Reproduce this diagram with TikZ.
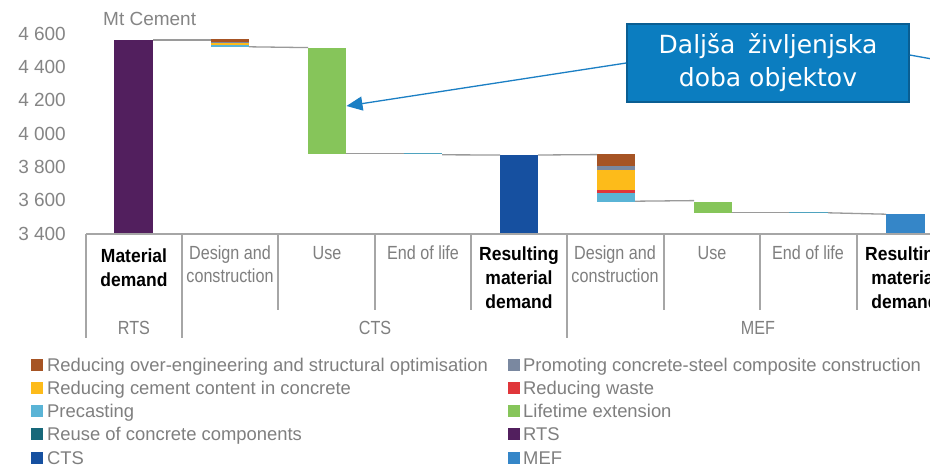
\documentclass[tikz,border=0pt]{standalone}
\usepackage{fontspec}
\setmainfont{Liberation Sans}
\newfontfamily\catfont[FakeStretch=0.85]{Liberation Sans}
\newfontfamily\catboldfam[FakeStretch=0.92]{Liberation Sans}
\newfontfamily\boxfont{DejaVu Sans}
\usetikzlibrary{arrows.meta}
\definecolor{rtscol}{HTML}{521F5E}
\definecolor{ctscol}{HTML}{1650A0}
\definecolor{mefcol}{HTML}{3586C8}
\definecolor{greencol}{HTML}{86C55A}
\definecolor{browncol}{HTML}{A65424}
\definecolor{promcol}{HTML}{7A88A0}
\definecolor{yellowcol}{HTML}{FDBB1A}
\definecolor{redcol}{HTML}{E0363A}
\definecolor{precol}{HTML}{5AB4D6}
\definecolor{reusecol}{HTML}{17687A}
\definecolor{reusebar}{HTML}{4FA3BF}
\definecolor{boxfill}{HTML}{0B7DC0}
\definecolor{boxedge}{HTML}{0A5E92}
\definecolor{callb}{HTML}{1B7FC4}
\definecolor{txtg}{HTML}{7F7F7F}
\definecolor{tickg}{HTML}{858585}
\definecolor{lineg}{HTML}{9A9A9A}
\definecolor{axg}{HTML}{A6A6A6}
\begin{document}
\begin{tikzpicture}[x=1pt,y=-1pt,
  conn/.style={draw=lineg, line width=1.3pt},
  sep/.style={draw=axg, line width=1.2pt},
  cat/.style={font=\catfont\fontsize{19}{23}\selectfont, text=txtg, align=center, anchor=base, inner sep=0pt},
  catb/.style={font=\catboldfam\bfseries\fontsize{19}{24}\selectfont, text=black, align=center, anchor=base, inner sep=0pt},
  tick/.style={font=\fontsize{19}{23}\selectfont, text=tickg, anchor=east, inner sep=0pt},
  leg/.style={font=\fontsize{18.4}{22}\selectfont, text=txtg, anchor=base west, inner sep=0pt},
  sq/.style={minimum size=12pt, inner sep=0pt, anchor=center}]
\clip (0,0) rectangle (930,469);
\fill[white] (0,0) rectangle (930,469);

% y-axis tick labels
\node[tick] (t4600) at (66,33.6) {4 600};
\node[tick] (t4400) at (66,67) {4 400};
\node[tick] (t4200) at (66,100.3) {4 200};
\node[tick] (t4000) at (66,133.7) {4 000};
\node[tick] (t3800) at (66,167) {3 800};
\node[tick] (t3600) at (66,200.4) {3 600};
\node[tick] (t3400) at (66,233.7) {3 400};
\node[font=\fontsize{19}{23}\selectfont, text=tickg, anchor=base west, inner sep=0pt] (unit) at (103,25) {Mt Cement};

% bars
\fill[rtscol] (114,39.5) rectangle (153,234);
\fill[browncol] (211,39.3) rectangle (249,42);
\fill[promcol] (211,42) rectangle (249,42.7);
\fill[yellowcol] (211,42.7) rectangle (249,45.3);
\fill[precol] (211,45.3) rectangle (249,46.6);
\fill[greencol] (308,47.5) rectangle (346,154);
\fill[reusebar] (404,152.8) rectangle (442,154.4);
\fill[ctscol] (500,154.5) rectangle (538,234);
\fill[browncol] (597,154) rectangle (635,166.3);
\fill[promcol] (597,166.3) rectangle (635,170);
\fill[yellowcol] (597,170) rectangle (635,190);
\fill[redcol] (597,190) rectangle (635,193.3);
\fill[precol] (597,193.3) rectangle (635,201.5);
\fill[greencol] (694,202) rectangle (732,213);
\fill[reusebar] (789,211.8) rectangle (828,213);
\fill[mefcol] (886,214) rectangle (925,234);

% connectors between bars
\draw[conn] (153,40) -- (211,40);
\draw[conn] (249,46.8) -- (308,47.6);
\draw[conn] (346,153.6) -- (404,153.6);
\draw[conn] (442,154.8) -- (500,155);
\draw[conn] (538,155) -- (597,154.6);
\draw[conn] (635,201.2) -- (694,200.6);
\draw[conn] (732,212.4) -- (789,212.4);
\draw[conn] (828,212.8) -- (886,214.2);

% axis and category separators
\draw[sep] (86,234) -- (931,234);
\draw[sep] (86,234) -- (86,338);
\draw[sep] (182,234) -- (182,338);
\draw[sep] (278,234) -- (278,310);
\draw[sep] (375,234) -- (375,310);
\draw[sep] (471,234) -- (471,310);
\draw[sep] (567,234) -- (567,338);
\draw[sep] (664,234) -- (664,310);
\draw[sep] (760,234) -- (760,310);
\draw[sep] (857,234) -- (857,310);

% category labels (base anchor = last line's baseline)
\node[catb] (c1) at (134,286) {Material\\demand};
\node[cat] (c2) at (230,282.3) {Design and\\construction};
\node[cat] (c3) at (327,259.3) {Use};
\node[cat] (c4) at (423,259.3) {End of life};
\node[catb] (c5) at (519,308.5) {Resulting\\material\\demand};
\node[cat] (c6) at (615,282.3) {Design and\\construction};
\node[cat] (c7) at (712,259.3) {Use};
\node[cat] (c8) at (808,259.3) {End of life};
\node[catb] (c9) at (905,308.5) {Resulting\\material\\demand};
\node[cat] (g1) at (134,334) {RTS};
\node[cat] (g2) at (375,334) {CTS};
\node[cat] (g3) at (758,334) {MEF};

% legend
\node[sq, fill=browncol] (s1) at (36.5,364.5) {};
\node[leg] (l1) at (47,371) {Reducing over-engineering and structural optimisation};
\node[sq, fill=yellowcol] (s2) at (36.5,387.8) {};
\node[leg] (l2) at (47,394.3) {Reducing cement content in concrete};
\node[sq, fill=precol] (s3) at (36.5,411.1) {};
\node[leg] (l3) at (47,417.6) {Precasting};
\node[sq, fill=reusecol] (s4) at (36.5,434.4) {};
\node[leg] (l4) at (47,440.9) {Reuse of concrete components};
\node[sq, fill=ctscol] (s5) at (36.5,457.7) {};
\node[leg] (l5) at (47,464.2) {CTS};
\node[sq, fill=promcol] (s6) at (513.5,364.5) {};
\node[leg] (l6) at (523,371) {Promoting concrete-steel composite construction};
\node[sq, fill=redcol] (s7) at (513.5,387.8) {};
\node[leg] (l7) at (523,394.3) {Reducing waste};
\node[sq, fill=greencol] (s8) at (513.5,411.1) {};
\node[leg] (l8) at (523,417.6) {Lifetime extension};
\node[sq, fill=rtscol] (s9) at (513.5,434.4) {};
\node[leg] (l9) at (523,440.9) {RTS};
\node[sq, fill=mefcol] (s10) at (513.5,457.7) {};
\node[leg] (l10) at (523,464.2) {MEF};

% callout
\node[draw=boxedge, line width=1.5pt, fill=boxfill, minimum width=282pt, minimum height=78pt,
  inner sep=0pt, text=white, font=\boxfont\fontsize{25}{33}\selectfont, align=center]
  (callout) at (768,63) {Daljša\hspace{0.5em}življenjska\\doba objektov};
\coordinate (tip) at (346.5,106);
\coordinate (offright) at (932,59);
\draw[callb, line width=1.3pt, -{Triangle[length=16pt,width=14pt]}] (callout.west) -- (tip);
\draw[callb, line width=1.3pt] ([yshift=8pt]callout.east) -- (offright);
\end{tikzpicture}
\end{document}
